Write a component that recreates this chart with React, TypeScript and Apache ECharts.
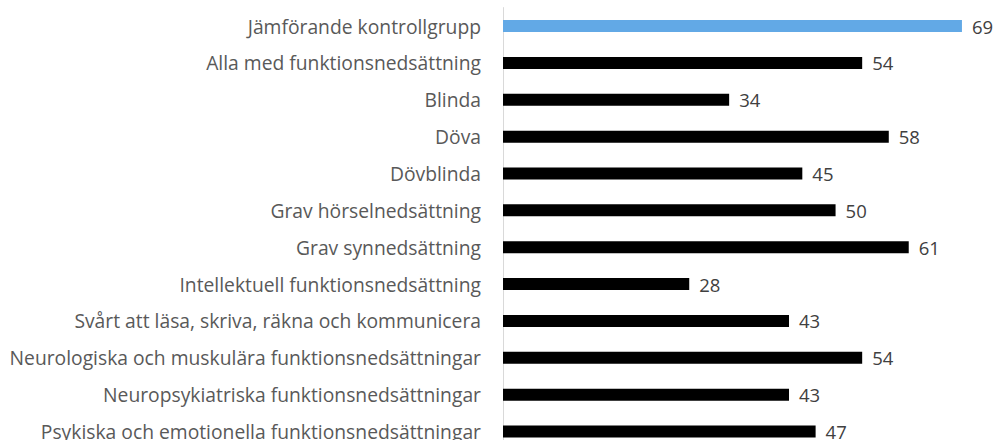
import React, { useEffect, useRef } from "react";
import * as echarts from "echarts";

const categories = [
  "Jämförande kontrollgrupp",
  "Alla med funktionsnedsättning",
  "Blinda",
  "Döva",
  "Dövblinda",
  "Grav hörselnedsättning",
  "Grav synnedsättning",
  "Intellektuell funktionsnedsättning",
  "Svårt att läsa, skriva, räkna och kommunicera",
  "Neurologiska och muskulära funktionsnedsättningar",
  "Neuropsykiatriska funktionsnedsättningar",
  "Psykiska och emotionella funktionsnedsättningar",
];
const values = [69, 54, 34, 58, 45, 50, 61, 28, 43, 54, 43, 47];
const highlightIndex = 0;

export default function App() {
  const ref = useRef<HTMLDivElement>(null);
  useEffect(() => {
    if (!ref.current) return;
    const chart = echarts.init(ref.current, undefined, { renderer: "svg" });
    chart.setOption({
      animation: false,
      grid: { left: 503, right: 28.4, top: 7.6, bottom: 0, containLabel: false },
      xAxis: {
        type: "value",
        min: 0,
        max: 70,
        show: false,
      },
      yAxis: {
        type: "category",
        data: categories,
        inverse: true,
        axisLine: { show: true, lineStyle: { color: "#d9d9d9", width: 1 } },
        axisTick: { show: false },
        axisLabel: {
          color: "#595959",
          fontFamily: "Open Sans",
          fontSize: 19.3,
          margin: 22,
        },
      },
      series: [
        {
          type: "bar",
          data: values.map((v, i) => ({
            value: v,
            itemStyle: { color: i === highlightIndex ? "#62A9E6" : "#000000" },
          })),
          barWidth: 12,
          label: {
            show: true,
            position: "right",
            distance: 10,
            color: "#404040",
            fontFamily: "Open Sans",
            fontSize: 18.5,
          },
        },
      ],
    });
    return () => chart.dispose();
  }, []);
  return (
    <div style={{ position: "fixed", left: 0, top: 0, width: 997, height: 440, overflow: "hidden", background: "#fff" }}>
      <div ref={ref} style={{ width: 997, height: 450 }} />
    </div>
  );
}
